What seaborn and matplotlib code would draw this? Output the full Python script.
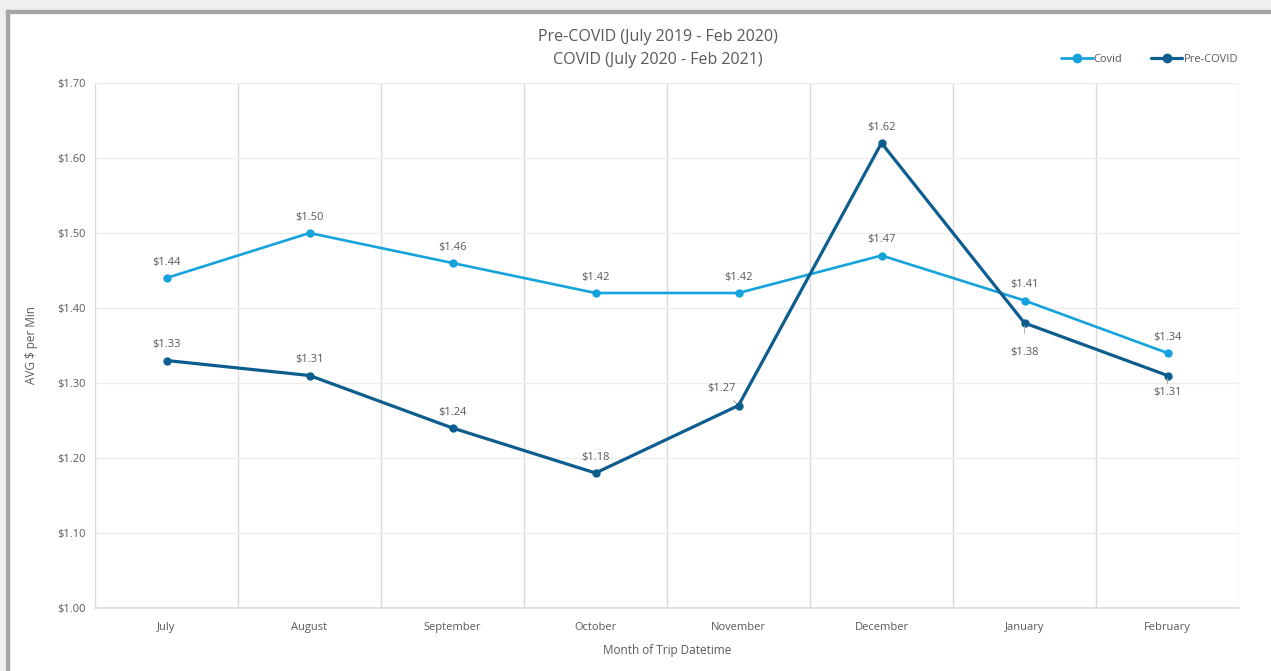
import matplotlib
matplotlib.use("Agg")
import matplotlib.pyplot as plt
import seaborn as sns
import pandas as pd
from matplotlib.patches import Rectangle
from matplotlib.lines import Line2D

months = ["July", "August", "September", "October", "November", "December", "January", "February"]
covid = [1.44, 1.50, 1.46, 1.42, 1.42, 1.47, 1.41, 1.34]
pre_covid = [1.33, 1.31, 1.24, 1.18, 1.27, 1.62, 1.38, 1.31]
series_names = ["Covid", "Pre-COVID"]
yticks = [1.00, 1.10, 1.20, 1.30, 1.40, 1.50, 1.60, 1.70]

df = pd.DataFrame({
    "month": months * 2,
    "x": list(range(len(months))) * 2,
    "value": covid + pre_covid,
    "series": [series_names[0]] * len(months) + [series_names[1]] * len(months),
})

sns.set_theme(style="white")
plt.rcParams["font.family"] = ["Open Sans", "DejaVu Sans"]
TXT = "#595959"
C_COVID = "#15a3db"
C_PRE = "#0d5d8f"

fig = plt.figure(figsize=(12.71, 6.71), dpi=100)
fig.patch.set_facecolor("white")
W, H = 1271, 671
# outer grey margin and frame
fig.patches.append(Rectangle((0, 1 - 10 / H), 1, 10 / H, transform=fig.transFigure, color="#f0f0f0", zorder=0))
fig.patches.append(Rectangle((0, 0), 6 / W, 1, transform=fig.transFigure, color="#f0f0f0", zorder=0))
fig.patches.append(Rectangle((6 / W, 0), 3 / W, 1 - 10 / H, transform=fig.transFigure, color="#a6a6a6", zorder=1))
fig.patches.append(Rectangle((6 / W, 1 - 13 / H), 1 - 6 / W, 3 / H, transform=fig.transFigure, color="#a6a6a6", zorder=1))

ax = fig.add_axes([95 / W, 1 - 608 / H, (1239 - 95) / W, (608 - 83) / H])

sns.lineplot(data=df, x="x", y="value", hue="series", palette={"Covid": C_COVID, "Pre-COVID": C_PRE},
             marker="o", markersize=6, markeredgewidth=0, linewidth=2.2, ax=ax, legend=False, zorder=3)
for ln, lw in zip(ax.get_lines(), [1.9, 2.3]):
    ln.set_linewidth(lw)

ax.set_xlim(-0.5, len(months) - 0.5)
ax.set_ylim(1.00, 1.70)
ax.set_xticks(range(len(months)))
ax.set_xticklabels(months)
ax.set_xticks([i + 0.5 for i in range(-1, len(months))], minor=True)
ax.set_yticks(yticks)
ax.set_yticklabels([f"${v:.2f}" for v in yticks])
ax.tick_params(axis="x", which="major", length=0, pad=10, labelsize=8, labelcolor=TXT)
ax.tick_params(axis="x", which="minor", length=5, width=1, color="#d9d9d9", direction="out")
ax.tick_params(axis="y", length=0, pad=7, labelsize=8, labelcolor=TXT)
ax.grid(axis="y", which="major", color="#ededed", linewidth=1)
ax.grid(axis="x", which="minor", color="#d9d9d9", linewidth=1)
ax.grid(axis="x", which="major", visible=False)
for s in ["top", "right", "left"]:
    ax.spines[s].set_visible(False)
ax.spines["bottom"].set_color("#d9d9d9")
ax.spines["bottom"].set_linewidth(1.2)
ax.set_xlabel("Month of Trip Datetime", fontsize=8.5, color=TXT, labelpad=8)
ax.set_ylabel("")
fig.text(31 / W, 1 - 345 / H, "AVG $ per Min", rotation=90, ha="center", va="center", fontsize=8.5, color=TXT)

# data labels
for i, v in enumerate(covid):
    ax.annotate(f"${v:.2f}", (i, v), xytext=(0, 11.5), textcoords="offset points",
                ha="center", va="center", fontsize=8, color=TXT)
for i, v in enumerate(pre_covid):
    if months[i] == "November":
        ax.annotate(f"${v:.2f}", (i, v), xytext=(-12, 12), textcoords="offset points",
                    ha="center", va="center", fontsize=8, color=TXT,
                    arrowprops=dict(arrowstyle="-", color="#8c8c8c", lw=0.6, shrinkA=3, shrinkB=2))
    elif months[i] in ("January", "February"):
        off = -21 if months[i] == "January" else -12.5
        ax.annotate(f"${v:.2f}", (i, v), xytext=(0, off), textcoords="offset points",
                    ha="center", va="center", fontsize=8, color=TXT,
                    arrowprops=dict(arrowstyle="-", color="#a6a6a6", lw=0.6, shrinkA=7, shrinkB=2))
    else:
        ax.annotate(f"${v:.2f}", (i, v), xytext=(0, 11.5), textcoords="offset points",
                    ha="center", va="center", fontsize=8, color=TXT)

fig.text(658 / W, 1 - 37 / H, "Pre-COVID (July 2019 - Feb 2020)", ha="center", va="center", fontsize=11.5, color=TXT)
fig.text(658 / W, 1 - 60 / H, "COVID (July 2020 - Feb 2021)", ha="center", va="center", fontsize=11.5, color=TXT)

handles = [Line2D([0], [0], color=C_COVID, lw=2, marker="o", markersize=6),
           Line2D([0], [0], color=C_PRE, lw=2.3, marker="o", markersize=6)]
fig.legend(handles, series_names, loc="center right", bbox_to_anchor=(1248 / W, 1 - 59 / H), ncol=2,
           frameon=False, fontsize=8, labelcolor=TXT, handlelength=2.8, handletextpad=0.1, columnspacing=2.6)

fig.savefig("out.png", dpi=100)
